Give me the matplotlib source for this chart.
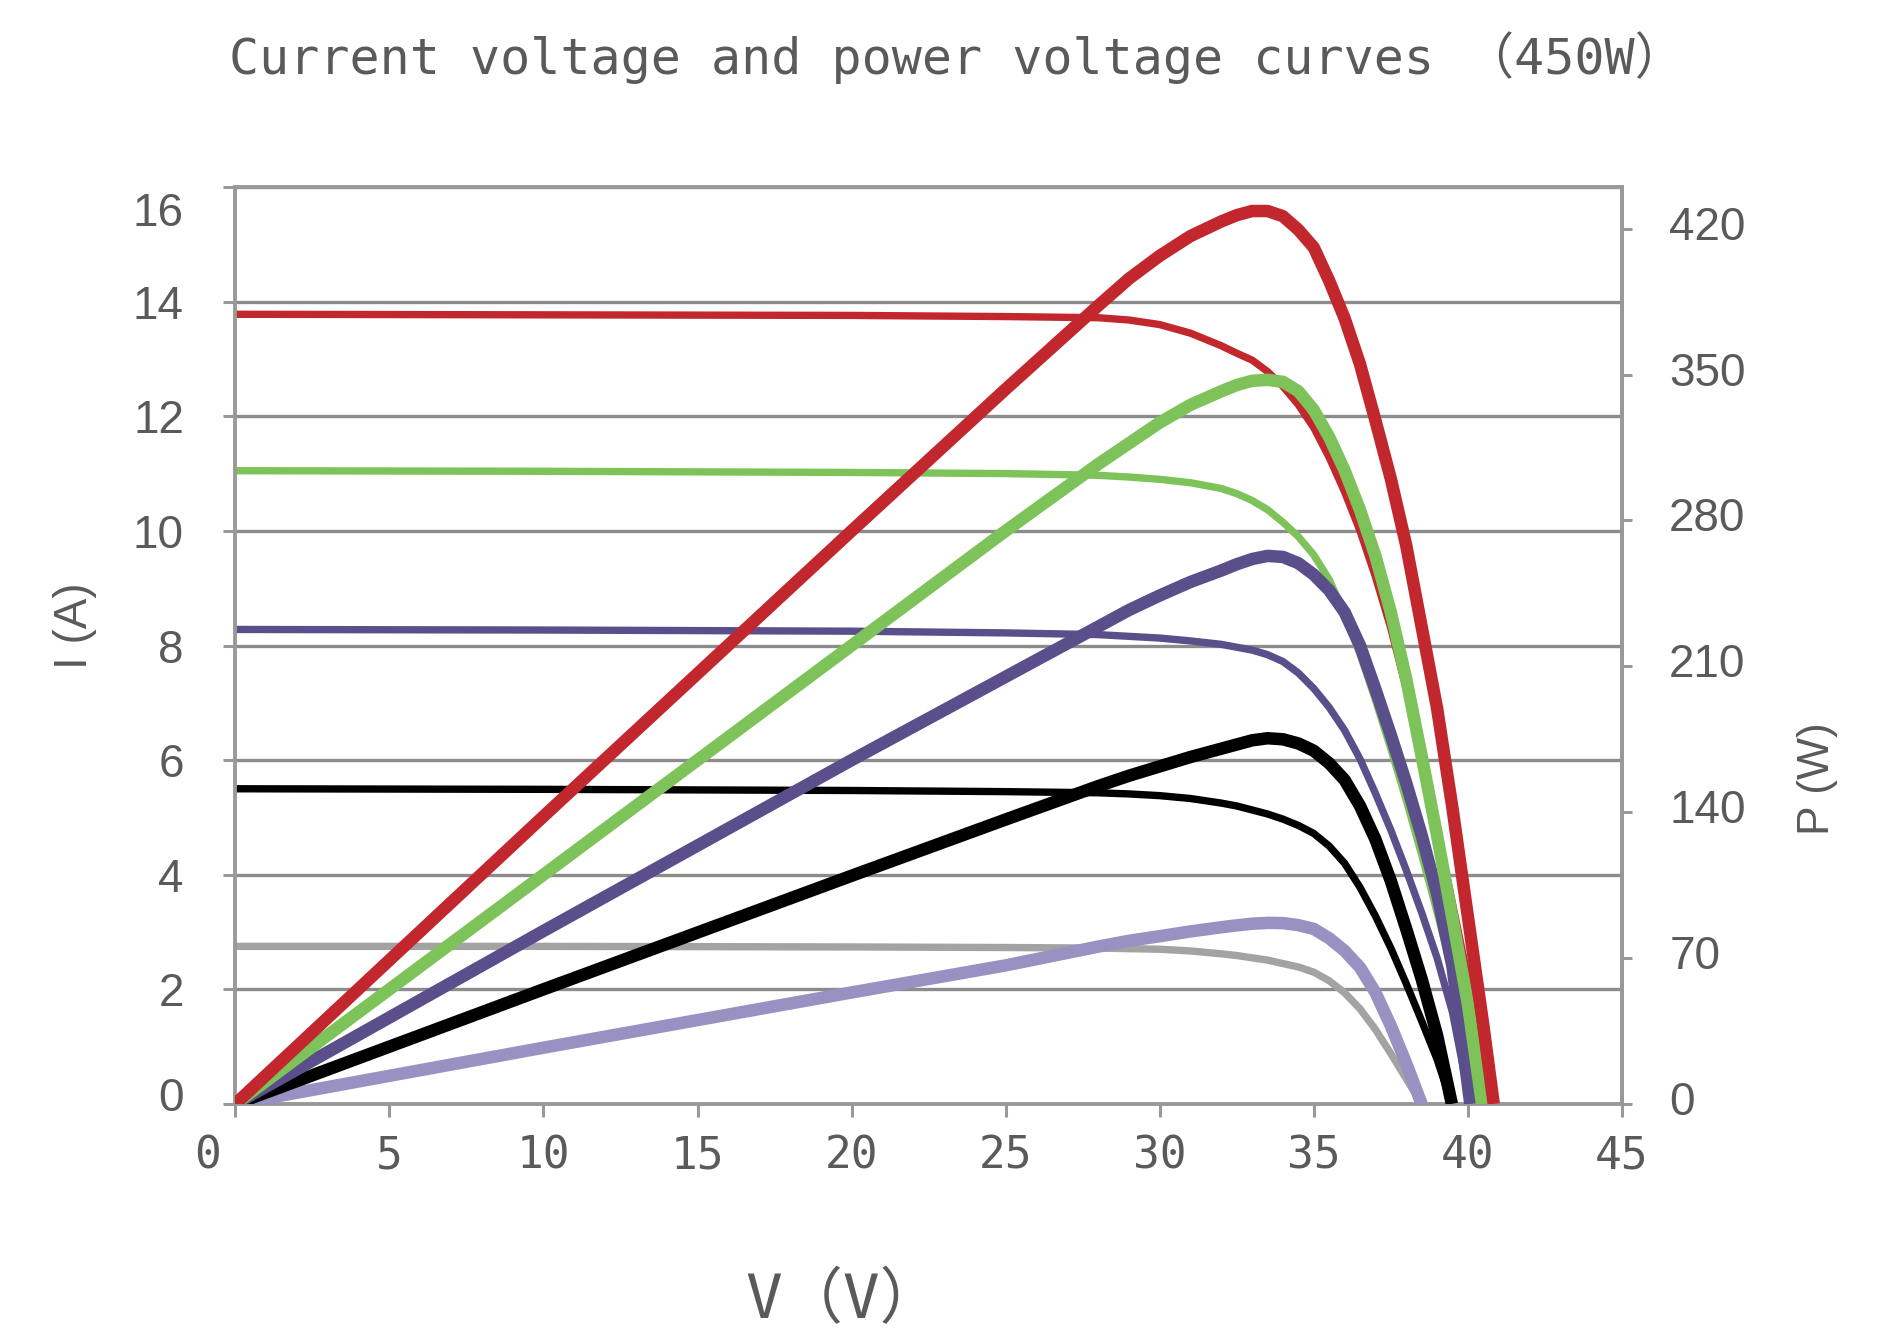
import matplotlib
matplotlib.use("Agg")
import matplotlib.pyplot as plt
import matplotlib.transforms as mtransforms

# I-V curves (thin lines)
v_red = [0, 10, 20, 25, 28, 29, 30, 31, 32, 32.5, 33, 33.5, 34, 34.5, 35, 35.5, 36, 36.5,
         37, 37.5, 38, 38.5, 39, 39.5, 40, 40.5, 40.84]
i_red = [13.78, 13.77, 13.76, 13.74, 13.72, 13.68, 13.6, 13.45, 13.23, 13.1, 12.98, 12.78,
         12.52, 12.2, 11.8, 11.28, 10.68, 10.0, 9.2, 8.3, 7.25, 6.05, 4.8, 3.5, 2.2, 0.95, 0]
v_green = [0, 10, 20, 25, 28, 29, 30, 31, 32, 32.5, 33, 33.5, 34, 34.5, 35, 35.5, 36, 36.5,
           37, 37.5, 38, 38.5, 39, 39.5, 40, 40.46]
i_green = [11.05, 11.04, 11.02, 11.0, 10.97, 10.94, 10.9, 10.84, 10.74, 10.65, 10.53, 10.37,
           10.15, 9.9, 9.58, 9.15, 8.55, 7.85, 7.05, 6.2, 5.3, 4.35, 3.35, 2.3, 1.2, 0]
v_purple = [0, 10, 20, 25, 28, 29, 30, 31, 32, 32.5, 33, 33.5, 34, 34.5, 35, 35.5, 36, 36.5,
            37, 37.5, 38, 38.5, 39, 39.5, 40.08]
i_purple = [8.28, 8.27, 8.25, 8.22, 8.19, 8.16, 8.13, 8.08, 8.02, 7.97, 7.92, 7.84, 7.72,
            7.52, 7.25, 6.92, 6.52, 6.02, 5.42, 4.78, 4.08, 3.34, 2.55, 1.6, 0]
v_black = [0, 10, 20, 25, 28, 29, 30, 31, 32, 32.5, 33, 33.5, 34, 34.5, 35, 35.5, 36, 36.5,
           37, 37.5, 38, 38.5, 39, 39.48]
i_black = [5.5, 5.49, 5.47, 5.45, 5.43, 5.41, 5.38, 5.33, 5.25, 5.2, 5.13, 5.06, 4.97, 4.86,
           4.72, 4.5, 4.2, 3.78, 3.28, 2.72, 2.1, 1.45, 0.78, 0]
v_grey = [0, 10, 20, 25, 28, 29, 30, 31, 32, 32.5, 33, 33.5, 34, 34.5, 35, 35.5, 36, 36.5,
          37, 37.5, 38, 38.5]
i_grey = [2.75, 2.75, 2.74, 2.73, 2.72, 2.71, 2.7, 2.67, 2.62, 2.59, 2.55, 2.51, 2.45, 2.39,
          2.3, 2.15, 1.94, 1.66, 1.3, 0.88, 0.44, 0]

# P-V curves (thick lines)
pv_red = [0, 10, 20, 25, 28, 29, 30, 31, 32, 32.5, 33, 33.5, 34, 34.5, 35, 35.5, 36, 36.5,
          37, 37.5, 38, 38.5, 39, 39.5, 40, 40.5, 40.84]
p_red = [0, 138, 275, 343, 383, 396, 407, 416.5, 423.5, 426.5, 428.5, 428.5, 426, 419.5, 411,
         395, 377, 355, 328, 300, 268, 229, 190, 142, 90, 38, 0]
pv_green = [0, 10, 20, 25, 28, 29, 30, 31, 32, 32.5, 33, 33.5, 34, 34.5, 35, 35.5, 36, 36.5,
            37, 37.5, 38, 38.5, 39, 39.5, 40, 40.46]
p_green = [0, 110, 220, 275, 307, 317, 327, 335.5, 342, 345, 347, 347.5, 346.5, 342, 333,
           320, 304, 285, 263, 236, 204, 167, 129, 89, 48, 0]
pv_purple = [0, 10, 20, 25, 28, 29, 30, 31, 32, 32.5, 33, 33.5, 34, 34.5, 35, 35.5, 36, 36.5,
             37, 37.5, 38, 38.5, 39, 39.5, 40.08]
p_purple = [0, 83, 165, 205, 229, 237, 244, 250.5, 256, 259, 261.5, 263, 262.5, 259.5, 254,
            246.5, 236, 220, 199, 177, 154, 129, 101, 66, 0]
pv_black = [0, 10, 20, 25, 28, 29, 30, 31, 32, 32.5, 33, 33.5, 34, 34.5, 35, 35.5, 36, 36.5,
            37, 37.5, 38, 38.5, 39, 39.48]
p_black = [0, 55, 109.5, 136.5, 152.5, 157.5, 162, 166.5, 170.5, 172.5, 174.5, 175.5, 175, 173,
           169.5, 163.5, 155.5, 143, 127, 107, 84, 60, 33, 0]
pv_lilac = [0, 10, 20, 25, 28, 29, 30, 31, 32, 32.5, 33, 33.5, 34, 34.5, 35, 35.5, 36, 36.5,
            37, 37.5, 38, 38.5]
p_lilac = [0, 27, 53.5, 66.5, 75.5, 78.3, 80.5, 82.8, 84.8, 85.7, 86.5, 86.9, 86.8, 85.8, 84,
           79.5, 73.5, 65.5, 53.5, 37.5, 19.5, 0]

i_ticks = list(range(0, 17, 2))
p_ticks = list(range(0, 421, 70))
v_ticks = list(range(0, 46, 5))

colors = {'red': '#C1272D', 'green': '#7DC35A', 'purple': '#5B4F8B',
          'black': '#000000', 'grey': '#A3A3A3', 'lilac': '#9891C2'}
txt = '#5A5A5A'
axis_grey = '#999999'
mono = ['DejaVu Sans Mono', 'Noto Sans CJK SC']
sans = ['Liberation Sans', 'DejaVu Sans']

fig = plt.figure(figsize=(18.93, 13.37), dpi=100)
ax = fig.add_axes([0.1243, 0.1743, 0.7325, 0.6858])
ax2 = ax.twinx()

thin, thick = 5.3, 9.0
style = dict(solid_capstyle='butt', solid_joinstyle='round')
ax.plot(v_grey, i_grey, color=colors['grey'], lw=thin, **style)
ax.plot(v_black, i_black, color=colors['black'], lw=thin, **style)
ax.plot(v_purple, i_purple, color=colors['purple'], lw=thin, **style)
ax.plot(v_green, i_green, color=colors['green'], lw=thin, **style)
ax.plot(v_red, i_red, color=colors['red'], lw=thin, **style)

ax2.plot(pv_lilac, p_lilac, color=colors['lilac'], lw=thick, **style)
ax2.plot(pv_black, p_black, color=colors['black'], lw=thick, **style)
ax2.plot(pv_purple, p_purple, color=colors['purple'], lw=thick, **style)
ax2.plot(pv_green, p_green, color=colors['green'], lw=thick, **style)
ax2.plot(pv_red, p_red, color=colors['red'], lw=thick, **style)

# axes
ax.set_xlim(0, 45)
ax.set_ylim(0, 16)
ax2.set_ylim(0, 440)
ax.set_xticks(v_ticks)
ax.set_yticks(i_ticks)
ax2.set_yticks(p_ticks)
ax.grid(axis='y', color='#8C8C8C', lw=2.4)
ax.set_axisbelow(True)
for sp in ax.spines.values():
    sp.set_color(axis_grey)
    sp.set_linewidth(2.8)
for name, sp in ax2.spines.items():
    sp.set_visible(name == 'right')
    sp.set_color(axis_grey)
    sp.set_linewidth(2.8)

ax.tick_params(axis='y', direction='out', length=9, width=2.2, color=axis_grey,
               pad=28, labelsize=33, labelcolor=txt)
ax.tick_params(axis='x', direction='out', length=9, width=2.2, color=axis_grey,
               pad=13, labelsize=32, labelcolor=txt)
ax2.tick_params(axis='y', direction='out', length=7, width=2.2, color=axis_grey,
                pad=27, labelsize=33, labelcolor=txt)
for lab in ax.get_xticklabels():
    lab.set_family(mono)
for lab in ax.get_yticklabels() + ax2.get_yticklabels():
    lab.set_family(sans)

# small label offsets as in the original
def shift(lab, dx, dy):
    lab.set_transform(lab.get_transform() +
                      mtransforms.ScaledTranslation(dx / 100, dy / 100, fig.dpi_scale_trans))

shift(ax.get_xticklabels()[0], -28, 0)
shift(ax.get_yticklabels()[-1], 0, -22)
shift(ax.get_yticklabels()[0], 0, 10)
for lab in ax2.get_yticklabels():
    shift(lab, 0, 6)

fig.text(0.0396, 0.532, 'I (A)', rotation=90, ha='center', va='center',
         fontsize=33, color=txt, family=sans)
fig.text(0.960, 0.4175, 'P (W)', rotation=90, ha='center', va='center',
         fontsize=32, color=txt, family=sans)
fig.text(0.5056, 0.9566, 'Current voltage and power voltage curves （450W）',
         ha='center', va='center', fontsize=36, color=txt, family=mono)
fig.text(0.4456, 0.0266, 'V（V）', ha='center', va='center',
         fontsize=44, color=txt, family=mono)

fig.savefig('out.png', dpi=100, facecolor='white')
